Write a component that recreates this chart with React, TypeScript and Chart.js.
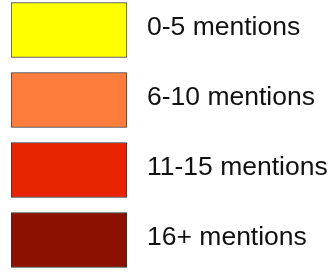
import React, { useEffect, useRef } from "react";
import { Chart, registerables } from "chart.js";

Chart.register(...registerables);

const categories = ["0-5 mentions", "6-10 mentions", "11-15 mentions", "16+ mentions"];
const swatchValues = [1, 1, 1, 1];
const swatchColors = ["#FFFF00", "#FF7D3C", "#E82400", "#8C1100"];
const borderColor = "#333333";

export default function App() {
  const ref = useRef<HTMLCanvasElement | null>(null);

  useEffect(() => {
    if (!ref.current) return;
    const chart = new Chart(ref.current, {
      type: "bar",
      data: {
        labels: categories,
        datasets: [
          {
            data: swatchValues,
            backgroundColor: swatchColors,
            borderColor: borderColor,
            borderWidth: 1,
            borderSkipped: false,
            barThickness: 55,
          },
        ],
      },
      options: {
        animation: false,
        responsive: false,
        devicePixelRatio: 1,
        indexAxis: "y",
        layout: { padding: { left: 11, right: 0, top: 0, bottom: 0 } },
        plugins: {
          legend: { display: false },
          tooltip: { enabled: false },
        },
        scales: {
          x: { display: false, min: 0, max: 1 },
          y: {
            type: "category",
            position: "right",
            offset: true,
            grid: { display: false, drawTicks: false },
            border: { display: false },
            afterFit: (axis: any) => {
              axis.width = 209;
              axis.paddingTop = 0;
              axis.paddingBottom = 0;
            },
            ticks: {
              padding: 20,
              crossAlign: "near",
              autoSkip: false,
              labelOffset: -2,
              color: "#111111",
              font: { family: "'Liberation Sans', Arial, sans-serif", size: 26.5 },
            },
          },
        },
      },
    });
    return () => chart.destroy();
  }, []);

  return (
    <div
      style={{
        position: "fixed",
        left: 0,
        top: 0,
        width: 336,
        height: 273,
        overflow: "hidden",
        background: "#ffffff",
      }}
    >
      <canvas
        ref={ref}
        width={336}
        height={280}
        style={{ position: "absolute", left: 0, top: -5 }}
      />
    </div>
  );
}
